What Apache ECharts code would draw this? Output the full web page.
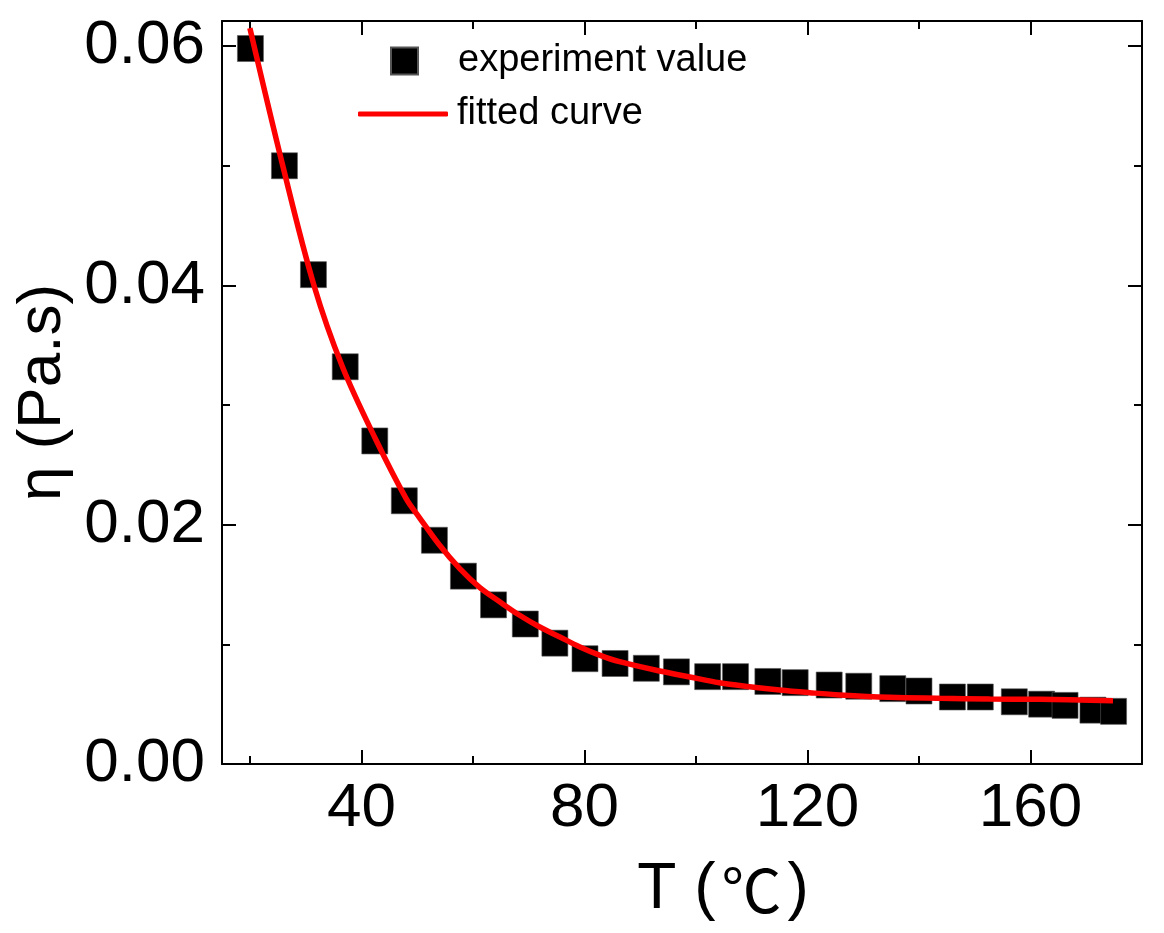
<!DOCTYPE html>
<html lang="en">

<head>
    <meta charset="UTF-8">
    <title>Viscosity vs temperature</title>
    <script src="https://cdn.jsdelivr.net/npm/echarts@6/dist/echarts.min.js"></script>
    <style>
        body {
            margin: 0;
            background: #fff;
        }

        #root {
            width: 1164px;
            height: 933px;
        }
    </style>
</head>

<body>

    <div id="root"></div>
    <script>

        // measured points (T in degC, viscosity in Pa.s)
        var tempC = [20.1, 26.2, 31.4, 37.1, 42.4, 47.7, 53.1, 58.3, 63.7, 69.4,
            74.7, 80.1, 85.5, 91.1, 96.5, 102.1, 107.1, 112.9, 117.8, 123.9,
            129.2, 135.3, 140.0, 146.0, 151.0, 157.1, 162.0, 166.2, 171.2, 174.9];
        var viscosity = [0.0598, 0.0500, 0.0409, 0.0332, 0.0270, 0.0220, 0.0187, 0.0157, 0.0133, 0.0117,
            0.0101, 0.0088, 0.0084, 0.0080, 0.0077, 0.0073, 0.0073, 0.0069, 0.0068, 0.0066,
            0.0065, 0.0063, 0.0061, 0.0056, 0.0056, 0.0052, 0.0050, 0.0049, 0.0045, 0.0044];

        // fitted curve
        var fitT = [20, 25.9, 31.5, 36.6, 42.6, 48.0, 50.4, 54.0, 57.6, 61.2,
            64.8, 68.3, 71.9, 75.5, 79.1, 82.7, 86.3, 93.5, 98.9, 104.2,
            109.6, 115.0, 120.4, 125.8, 134.7, 143.7, 152.7, 161.7, 174.8];
        var fitEta = [0.0615, 0.0500, 0.0400, 0.0332, 0.0271, 0.0222, 0.0206, 0.0183, 0.01635, 0.01476,
            0.01356, 0.01245, 0.01147, 0.01064, 0.0098, 0.0091, 0.00855, 0.00777, 0.00727, 0.00679,
            0.00646, 0.00618, 0.00596, 0.00577, 0.00557, 0.00549, 0.00543, 0.00541, 0.00529];

        var xMajor = [40, 80, 120, 160];
        var xMinor = [20, 60, 100, 140, 180];
        var yMajor = [0, 0.02, 0.04, 0.06];
        var yMinor = [0.01, 0.03, 0.05];

        var FONT = 'Liberation Sans, Arial, Noto Sans CJK SC, sans-serif';

        function zip(a, b) {
            return a.map(function (v, i) { return [v, b[i]]; });
        }

        // one axis = one set of ticks (major or minor), labels only on the main ones
        function axis(pos, min, max, ticks, len, extra) {
            var o = {
                type: 'value',
                position: pos,
                min: min,
                max: max,
                splitLine: { show: false },
                axisLine: { show: len > 10, onZero: false, lineStyle: { color: '#000', width: 2 } },
                axisTick: { show: true, inside: true, length: len, customValues: ticks, lineStyle: { color: '#000', width: 2 } },
                axisLabel: { show: false }
            };
            return Object.assign(o, extra || {});
        }

        var mychart = echarts.init(document.getElementById('root'));

        mychart.setOption({
            animation: false,
            backgroundColor: '#fff',
            grid: { left: 222, right: 22, top: 21, bottom: 169 },
            legend: [{
                data: ['experiment value'],
                left: 390, top: 42, padding: 0,
                itemWidth: 27, itemHeight: 27,
                textStyle: { fontFamily: FONT, fontSize: 38, color: '#000', padding: [0, 0, 0, 35] }
            }, {
                data: [{ name: 'fitted curve', icon: 'roundRect' }],
                left: 358, top: 95, padding: 0,
                itemWidth: 90, itemHeight: 5,
                textStyle: { fontFamily: FONT, fontSize: 38, color: '#000', padding: [0, 0, 0, 4] }
            }],
            xAxis: [
                axis('bottom', 15, 180, xMajor, 14, {
                    name: 'T ({c|℃})',
                    nameLocation: 'middle',
                    nameGap: 94,
                    nameTextStyle: {
                        fontFamily: FONT, fontSize: 64, color: '#000', padding: [0, 0, 0, 82],
                        rich: { c: { fontFamily: 'Noto Sans CJK SC', fontSize: 60, color: '#000', padding: [0, 6, 0, 6] } }
                    },
                    axisLabel: { show: true, customValues: xMajor, margin: 14, fontFamily: FONT, fontSize: 62, color: '#000' }
                }),
                axis('bottom', 15, 180, xMinor, 8),
                axis('top', 15, 180, xMajor, 14),
                axis('top', 15, 180, xMinor, 8)
            ],
            yAxis: [
                axis('left', 0, 0.0621, yMajor, 14, {
                    name: 'η (Pa.s)',
                    nameLocation: 'middle',
                    nameRotate: 90,
                    nameGap: 148,
                    nameTextStyle: { fontFamily: FONT, fontSize: 62, color: '#000' },
                    axisLabel: {
                        show: true, customValues: yMajor, margin: 17, fontFamily: FONT, fontSize: 62, color: '#000',
                        formatter: function (v) { return v.toFixed(2); }
                    }
                }),
                axis('left', 0, 0.0621, yMinor, 8),
                axis('right', 0, 0.0621, yMajor, 14),
                axis('right', 0, 0.0621, yMinor, 8)
            ],
            series: [{
                name: 'experiment value',
                type: 'scatter',
                symbol: 'rect',
                symbolSize: 26,
                itemStyle: { color: '#000', opacity: 1, borderColor: '#555', borderWidth: 0.6 },
                data: zip(tempC, viscosity),
                z: 2
            }, {
                name: 'fitted curve',
                type: 'line',
                symbol: 'none',
                smooth: 0.35,
                lineStyle: { color: '#ff0000', width: 5.5 },
                itemStyle: { color: '#ff0000' },
                data: zip(fitT, fitEta),
                z: 3
            }]
        });

    </script>

</body>

</html>
